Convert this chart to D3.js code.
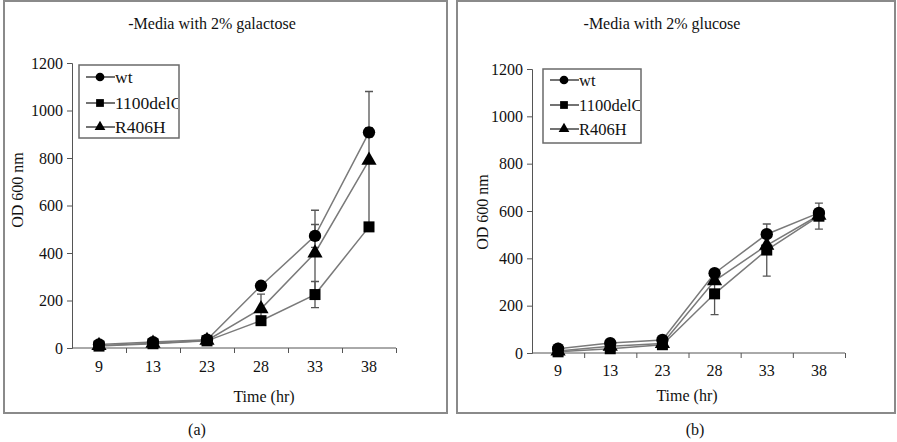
<!DOCTYPE html>
<html>
<head>
<meta charset="utf-8">
<script src="https://cdn.jsdelivr.net/npm/d3@7"></script>
<style>
  body { margin: 0; background: #fff; }
  svg { display: block; }
  text { font-family: "Liberation Serif", "DejaVu Serif", serif; fill: #111; }
</style>
</head>
<body>
<div id="chart"></div>
<script>
// time points (categories)
const times = ["9", "13", "23", "28", "33", "38"];
const seriesNames = ["wt", "1100delC", "R406H"];
const yTicks = [0, 200, 400, 600, 800, 1000, 1200];

// (a) galactose
const galWt = [15, 25, 35, 262, 472, 908];
const galDel = [8, 18, 30, 115, 225, 510];
const galR406 = [10, 20, 32, 165, 400, 790];
const galWtErr = [0, 0, 0, 0, 48, 20];
const galDelErr = [0, 0, 0, 0, 55, 0];
const galR406Err = [0, 0, 0, 62, 180, 290];

// (b) glucose
const gluWt = [18, 42, 55, 337, 502, 592];
const gluDel = [5, 18, 35, 250, 435, 578];
const gluR406 = [8, 28, 40, 305, 455, 582];
const gluWtErr = [0, 0, 0, 0, 0, 0];
const gluDelErr = [0, 0, 0, 88, 110, 55];
const gluR406Err = [0, 0, 0, 0, 0, 0];

const W = 897, H = 442;
const FS = "16px";
const svg = d3.select("#chart").append("svg").attr("width", W).attr("height", H);

const symbols = [d3.symbolCircle, d3.symbolSquare, d3.symbolTriangle];
const symSize = [120, 121, 100];

function drawPanel(p) {
  // frame
  svg.append("rect")
    .attr("x", p.frame[0]).attr("y", p.frame[1])
    .attr("width", p.frame[2]).attr("height", p.frame[3])
    .attr("fill", "none").attr("stroke", "#8a8a8a").attr("stroke-width", 2);

  const g = svg.append("g").attr("transform", `translate(${p.left},${p.top})`);

  const x = d3.scaleBand().domain(times).range([0, p.w]);
  const xEdge = d3.scaleLinear().domain([0, times.length]).range([0, p.w]);
  const y = d3.scaleLinear().domain([0, 1200]).range([p.h, 0]);

  // y axis
  const ya = g.append("g")
    .call(d3.axisLeft(y).tickValues(yTicks).tickSize(5).tickPadding(4).tickFormat(d3.format("d")));
  ya.selectAll("text").style("font-size", FS).style("font-family", "Liberation Serif").style("fill", "#111");
  ya.selectAll("line, path").attr("stroke", "#555");

  // x axis: ticks at category edges
  const xa = g.append("g").attr("transform", `translate(0,${p.h})`)
    .call(d3.axisBottom(xEdge).tickValues(d3.range(1, times.length + 1)).tickSize(5).tickFormat(""));
  xa.selectAll("line, path").attr("stroke", "#555");
  xa.select("path").attr("d", `M0,0H${p.w}`);

  const xl = g.append("g").attr("transform", `translate(0,${p.h})`)
    .call(d3.axisBottom(x).tickSize(0).tickPadding(p.labPad));
  xl.select("path").remove();
  xl.selectAll("text").style("font-size", FS).style("font-family", "Liberation Serif").style("fill", "#111");

  const cx = d => x(d) + x.bandwidth() / 2;

  const series = p.series.map((vals, i) => ({
    name: seriesNames[i], i,
    pts: vals.map((v, k) => ({ t: times[k], v, e: p.errs[i][k] }))
  }));

  const line = d3.line().x(d => cx(d.t)).y(d => y(d.v));

  // lines
  g.selectAll(".ln").data(series).enter().append("path")
    .attr("class", "ln")
    .attr("d", s => line(s.pts))
    .attr("fill", "none").attr("stroke", "#7a7a7a").attr("stroke-width", 1.5);

  // error bars
  series.forEach(s => {
    const eb = s.pts.filter(d => d.e > 0);
    g.selectAll(null).data(eb).enter().append("path")
      .attr("d", d => {
        const xx = cx(d.t), y1 = y(d.v + d.e), y0 = y(d.v - d.e);
        return `M${xx},${y1}V${y0}M${xx - 4},${y1}H${xx + 4}M${xx - 4},${y0}H${xx + 4}`;
      })
      .attr("fill", "none").attr("stroke", "#555").attr("stroke-width", 1.3);
  });

  // markers
  series.forEach(s => {
    g.selectAll(null).data(s.pts).enter().append("path")
      .attr("transform", d => `translate(${cx(d.t)},${y(d.v)})`)
      .attr("d", d3.symbol().type(symbols[s.i]).size(symSize[s.i]))
      .attr("fill", "#000");
  });

  // legend
  const lg = svg.append("g").attr("transform", `translate(${p.leg[0]},${p.leg[1]})`);
  lg.append("rect").attr("width", p.leg[2]).attr("height", p.leg[3])
    .attr("fill", "#fff").attr("stroke", "#6a6a6a").attr("stroke-width", 1.5);
  const clipId = "clip" + p.id;
  lg.append("clipPath").attr("id", clipId).append("rect")
    .attr("width", p.leg[2] - 1).attr("height", p.leg[3]);
  seriesNames.forEach((n, i) => {
    const yy = p.legY[i];
    lg.append("line").attr("x1", 7).attr("x2", 36).attr("y1", yy).attr("y2", yy)
      .attr("stroke", "#444").attr("stroke-width", 1.5);
    lg.append("path").attr("transform", `translate(21,${yy})`)
      .attr("d", d3.symbol().type(symbols[i]).size(symSize[i] * 0.5)).attr("fill", "#000");
    lg.append("text").attr("x", 36).attr("y", yy).attr("dy", "0.35em")
      .attr("clip-path", `url(#${clipId})`)
      .style("font-size", p.legFS).text(n);
  });

  // titles / labels
  svg.append("text").attr("x", p.title[0]).attr("y", p.title[1]).attr("text-anchor", "middle")
    .style("font-size", FS).text(p.titleText);
  svg.append("text").attr("x", p.xlab[0]).attr("y", p.xlab[1]).attr("text-anchor", "middle")
    .style("font-size", FS).text("Time (hr)");
  svg.append("text").attr("transform", `translate(${p.ylab[0]},${p.ylab[1]}) rotate(-90)`)
    .attr("text-anchor", "middle").attr("dy", "0.35em")
    .style("font-size", FS).text("OD 600 nm");
  svg.append("text").attr("x", p.tag[0]).attr("y", p.tag[1]).attr("text-anchor", "middle")
    .style("font-size", FS).text(p.tagText);
}

drawPanel({
  id: "a",
  frame: [4, 1, 443, 412],
  left: 72, top: 63, w: 324, h: 285, labPad: 13,
  series: [galWt, galDel, galR406],
  errs: [galWtErr, galDelErr, galR406Err],
  leg: [79, 65, 100, 73], legY: [12, 38, 62], legFS: "17.5px",
  title: [212, 29], titleText: "-Media with 2% galactose",
  xlab: [264, 402], ylab: [17, 190],
  tag: [197, 435], tagText: "(a)"
});

drawPanel({
  id: "b",
  frame: [457, 1, 438, 412],
  left: 532, top: 69, w: 313, h: 284, labPad: 12,
  series: [gluWt, gluDel, gluR406],
  errs: [gluWtErr, gluDelErr, gluR406Err],
  leg: [543, 69, 98, 74], legY: [11, 36, 60], legFS: "16.5px",
  title: [662, 29], titleText: "-Media with 2% glucose",
  xlab: [687, 401], ylab: [482, 212],
  tag: [695, 435], tagText: "(b)"
});
</script>
</body>
</html>
